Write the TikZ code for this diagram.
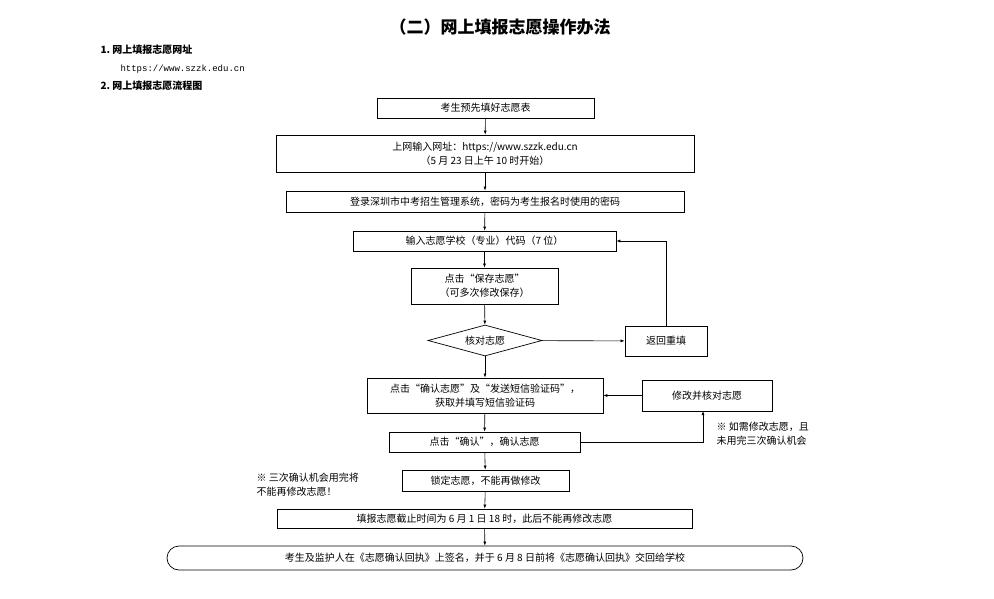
\documentclass[tikz,border=0pt]{standalone}
\usepackage{fontspec}
\setmainfont{Noto Sans CJK SC}
\newfontfamily\mono{Liberation Mono}
\usetikzlibrary{shapes.geometric,arrows.meta}
\begin{document}
\begin{tikzpicture}[x=1pt,y=-1pt,
 bx/.style={draw,line width=0.7pt,inner sep=0pt,align=center,font=\fontsize{10}{14}\selectfont},
 ar/.style={-{Latex[length=4pt,width=3pt]},line width=0.6pt},
 lab/.style={font=\fontsize{10}{14}\selectfont,align=left}]
\useasboundingbox (0,0) rectangle (994,599);
\node[font=\fontsize{17}{20}\selectfont\bfseries] (t) at (500,27) {（二）网上填报志愿操作办法};
\node[lab,anchor=west,font=\fontsize{10}{12}\selectfont\bfseries] (l1) at (97,50) {1.\ 网上填报志愿网址};
\node[lab,anchor=west,font=\fontsize{9}{12}\mono] (l2) at (117,69) {https://www.szzk.edu.cn};
\node[lab,anchor=west,font=\fontsize{10}{12}\selectfont\bfseries] (l3) at (97,86) {2.\ 网上填报志愿流程图};
\node[bx,minimum width=217,minimum height=20] (b1) at (485.5,108) {考生预先填好志愿表};
\node[bx,minimum width=418,minimum height=37] (b2) at (485,153.5) {上网输入网址：https://www.szzk.edu.cn\\（5 月 23 日上午 10 时开始）};
\node[bx,minimum width=398,minimum height=21] (b3) at (485,201.5) {登录深圳市中考招生管理系统，密码为考生报名时使用的密码};
\node[bx,minimum width=263,minimum height=20] (b4) at (484.5,241) {输入志愿学校（专业）代码（7 位）};
\node[bx,minimum width=147,minimum height=36] (b5) at (484.5,286) {点击“保存志愿”\\（可多次修改保存）};
\node[draw,line width=0.7pt,diamond,aspect=3.7,minimum width=114,minimum height=31,inner sep=0pt,font=\fontsize{10}{14}\selectfont] (d) at (485,340.5) {核对志愿};
\node[bx,minimum width=82,minimum height=30] (r) at (666,341) {返回重填};
\node[bx,minimum width=236,minimum height=35] (b6) at (485,395.5) {点击“确认志愿”及“发送短信验证码”，\\获取并填写短信验证码};
\node[bx,minimum width=130,minimum height=31] (m) at (707,395.5) {修改并核对志愿};
\node[bx,minimum width=191,minimum height=20] (b7) at (484.5,442) {点击“确认”，确认志愿};
\node[lab,anchor=west] (n1) at (713,434) {※ 如需修改志愿，且\\未用完三次确认机会};
\node[bx,minimum width=167,minimum height=21] (b8) at (485.5,480.5) {锁定志愿，不能再做修改};
\node[lab,anchor=west] (n2) at (253,484.5) {※ 三次确认机会用完将\\不能再修改志愿！};
\node[bx,minimum width=415,minimum height=19] (b9) at (484.5,518.5) {填报志愿截止时间为 6 月 1 日 18 时，此后不能再修改志愿};
\node[bx,minimum width=636,minimum height=24,rounded corners=12pt] (b10) at (485,558) {考生及监护人在《志愿确认回执》上签名，并于 6 月 8 日前将《志愿确认回执》交回给学校};
\draw[ar] (b1) -- (b2);
\draw[ar] (b2) -- (b3);
\draw[ar] (b3) -- (b4);
\draw[ar] (b4) -- (b5);
\draw[ar] (b5) -- (d);
\draw[ar] (d) -- (r);
\draw[ar] (r.north) |- (b4.east);
\draw[ar] (d) -- (b6);
\draw[ar] (m) -- (b6);
\draw[ar] (b6) -- (b7);
\draw[ar] (b7.east) -| (703,411);
\draw[ar] (b7) -- (b8);
\draw[ar] (b8) -- (b9);
\draw[ar] (b9) -- (b10);
\end{tikzpicture}
\end{document}
